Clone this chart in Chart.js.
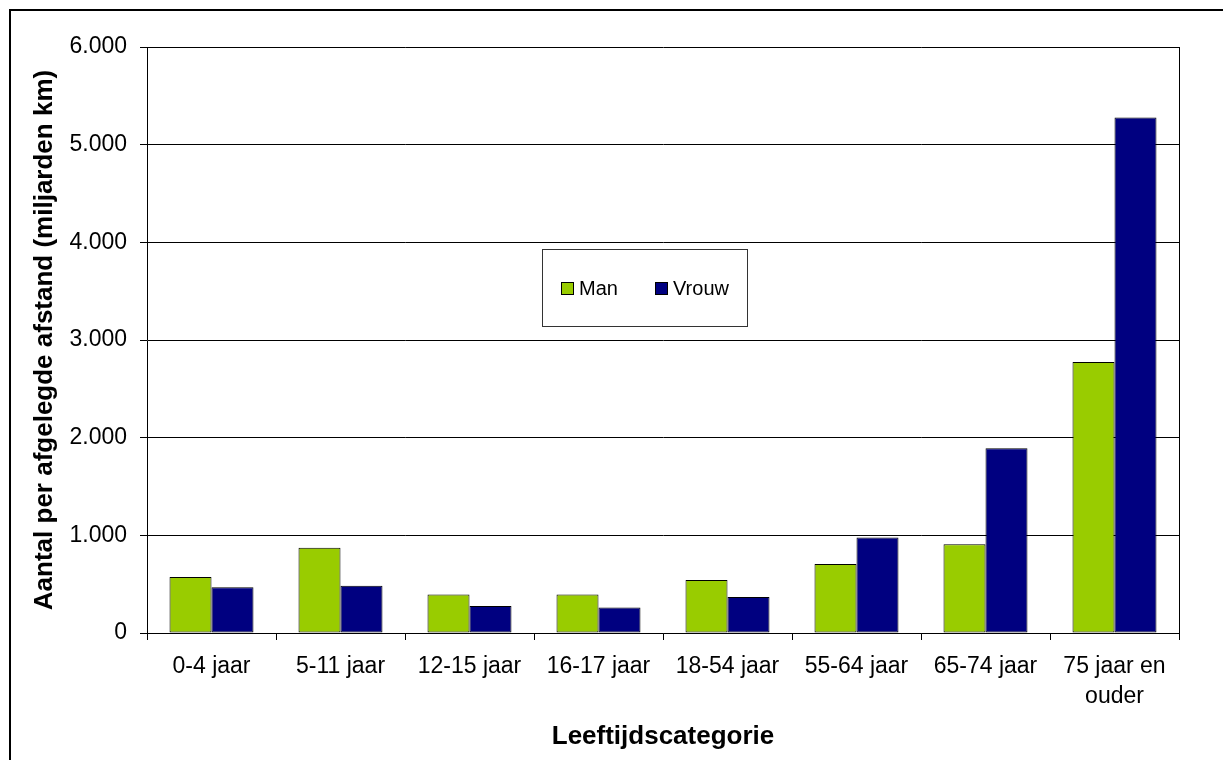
<!DOCTYPE html>
<html lang="nl">
<head>
<meta charset="utf-8">
<title>Aantal per afgelegde afstand naar leeftijd</title>
<script src="https://cdn.jsdelivr.net/npm/chart.js@4/dist/chart.umd.min.js"></script>
<style>
  html, body { margin: 0; padding: 0; background: #fff; overflow: hidden; }
  #wrap { position: relative; width: 1223px; height: 760px; }
  canvas { display: block; }
</style>
</head>
<body>
<div id="wrap"><canvas id="chart" width="1223" height="760"></canvas></div>
<script>
// Leeftijdscategorieën
const categories = [
  '0-4 jaar', '5-11 jaar', '12-15 jaar', '16-17 jaar',
  '18-54 jaar', '55-64 jaar', '65-74 jaar', ['75 jaar en', 'ouder']
];
// Aantal per afgelegde afstand (miljarden km)
const manValues   = [573, 874, 393, 393, 543, 706, 908, 2775];
const vrouwValues = [468, 485, 276, 260, 369, 977, 1891, 5277];
const seriesNames = ['Man', 'Vrouw'];
const yTicks = [0, 1000, 2000, 3000, 4000, 5000, 6000];

const FONT = 'Arial, "Liberation Sans", sans-serif';
const GREEN = '#99CC00';
const NAVY = '#000080';

function formatNl(v) {
  return String(v).replace(/\B(?=(\d{3})+(?!\d))/g, '.');
}

// Kader rond de figuur, rand rond het plotgebied en de legenda in het plotgebied
const framePlugin = {
  id: 'frame',
  beforeDraw(chart) {
    const ctx = chart.ctx;
    ctx.save();
    ctx.fillStyle = '#fff';
    ctx.fillRect(0, 0, chart.width, chart.height);
    ctx.fillStyle = '#000';
    ctx.fillRect(9, 9, 2, chart.height - 9);
    ctx.fillRect(9, 9, chart.width - 9, 2);
    ctx.restore();
  },
  afterDraw(chart) {
    const ctx = chart.ctx;
    const a = chart.chartArea;
    ctx.save();
    ctx.strokeStyle = '#000';
    ctx.lineWidth = 1;
    ctx.beginPath();
    ctx.moveTo(Math.round(a.right) + 0.5, a.top);
    ctx.lineTo(Math.round(a.right) + 0.5, a.bottom);
    ctx.stroke();

    // legenda
    const box = { x: 542, y: 249, w: 205, h: 77 };
    ctx.fillStyle = '#fff';
    ctx.fillRect(box.x, box.y, box.w, box.h);
    ctx.strokeStyle = '#333';
    ctx.strokeRect(box.x + 0.5, box.y + 0.5, box.w, box.h);
    const items = [
      { x: 561, color: GREEN, label: chart.data.datasets[0].label },
      { x: 655, color: NAVY, label: chart.data.datasets[1].label }
    ];
    ctx.font = '20px ' + FONT;
    ctx.textBaseline = 'middle';
    ctx.textAlign = 'left';
    items.forEach(it => {
      ctx.fillStyle = it.color;
      ctx.fillRect(it.x, 282, 13, 13);
      ctx.strokeStyle = '#000';
      ctx.strokeRect(it.x + 0.5, 282.5, 12, 12);
      ctx.fillStyle = '#000';
      ctx.fillText(it.label, it.x + 18, 289);
    });
    ctx.restore();
  }
};

new Chart(document.getElementById('chart'), {
  type: 'bar',
  data: {
    labels: categories,
    datasets: [
      {
        label: seriesNames[0],
        data: manValues,
        backgroundColor: GREEN,
        borderColor: '#000',
        borderWidth: 1,
        borderSkipped: false,
        categoryPercentage: 0.651,
        barPercentage: 1.0
      },
      {
        label: seriesNames[1],
        data: vrouwValues,
        backgroundColor: NAVY,
        borderColor: '#000',
        borderWidth: 1,
        borderSkipped: false,
        categoryPercentage: 0.651,
        barPercentage: 1.0
      }
    ]
  },
  options: {
    responsive: false,
    animation: false,
    devicePixelRatio: 1,
    layout: { padding: { left: 0, top: 47, right: 44, bottom: 0 } },
    plugins: {
      legend: { display: false },
      tooltip: { enabled: false }
    },
    scales: {
      x: {
        grid: {
          display: true,
          offset: true,
          drawOnChartArea: false,
          drawTicks: true,
          tickLength: 7,
          color: '#000',
          lineWidth: 1
        },
        border: { display: true, color: '#000', width: 1 },
        ticks: {
          color: '#000',
          padding: 11,
          maxRotation: 0,
          autoSkip: false,
          font: { family: FONT, size: 23, lineHeight: 1.33 }
        },
        title: {
          display: true,
          text: 'Leeftijdscategorie',
          color: '#000',
          font: { family: FONT, size: 26, weight: 'bold', lineHeight: 1.2 },
          padding: { top: 0, bottom: 8 }
        },
        afterFit(scale) { scale.height = 127; }
      },
      y: {
        min: 0,
        max: 6000,
        afterBuildTicks(scale) {
          scale.ticks = yTicks.map(v => ({ value: v }));
        },
        grid: {
          color: '#000',
          lineWidth: 1,
          drawTicks: true,
          tickLength: 7
        },
        border: { display: true, color: '#000', width: 1 },
        ticks: {
          color: '#000',
          padding: 13,
          font: { family: FONT, size: 23 },
          callback: v => formatNl(v)
        },
        title: {
          display: true,
          text: 'Aantal per afgelegde afstand (miljarden km)',
          color: '#000',
          font: { family: FONT, size: 26, weight: 'bold', lineHeight: 1.2 },
          padding: { top: 29, bottom: 0 }
        },
        afterFit(scale) { scale.width = 147; }
      }
    }
  },
  plugins: [framePlugin]
});
</script>
</body>
</html>
